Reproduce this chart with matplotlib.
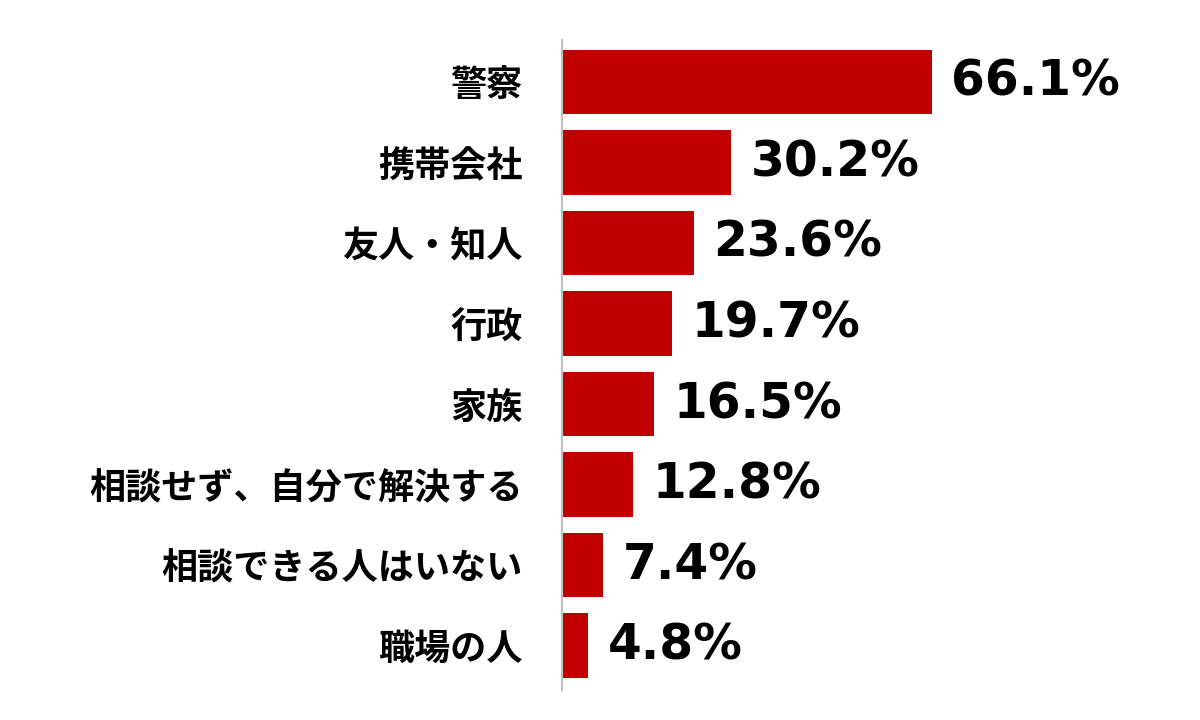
import matplotlib
matplotlib.use("Agg")
import matplotlib.pyplot as plt

categories = ["警察", "携帯会社", "友人・知人", "行政", "家族", "相談せず、自分で解決する", "相談できる人はいない", "職場の人"]
values = [66.1, 30.2, 23.6, 19.7, 16.5, 12.8, 7.4, 4.8]
value_labels = ["66.1%", "30.2%", "23.6%", "19.7%", "16.5%", "12.8%", "7.4%", "4.8%"]

fig = plt.figure(figsize=(12, 7.2), dpi=100)
ax = fig.add_axes([0.468, 0.0417, 0.35, 0.9028])

pos = list(range(len(categories)))
ax.barh(pos, values, height=0.8, color="#C00000")
ax.set_ylim(7.55, -0.52)
ax.set_xlim(0, 75)

for p, v, t in zip(pos, values, value_labels):
    ax.text(v + 3.5, p, t, va="center", ha="left", fontsize=35, fontweight="bold",
            family=["DejaVu Sans"], color="black")

ax.set_yticks(pos)
ax.set_yticklabels(categories, fontsize=26, fontweight="bold",
                   family=["Noto Sans CJK JP", "DejaVu Sans"])
ax.tick_params(axis="y", length=0, pad=28)
ax.set_xticks([])
for s in ["top", "right", "bottom"]:
    ax.spines[s].set_visible(False)
ax.spines["left"].set_color("#bfbfbf")
ax.spines["left"].set_linewidth(1.5)

fig.savefig("out.png", dpi=100)
